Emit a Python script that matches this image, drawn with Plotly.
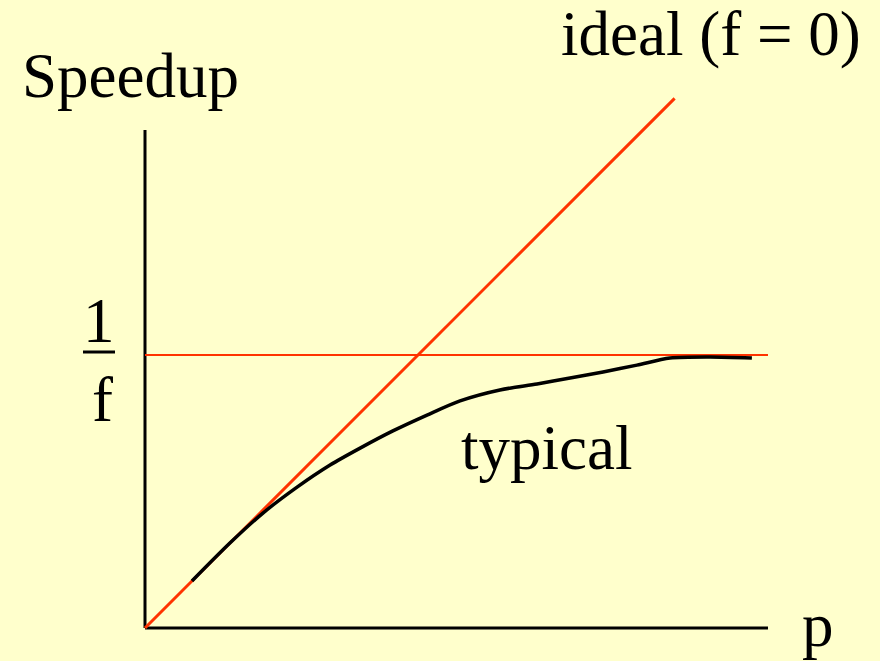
import plotly.graph_objects as go

# ---- data (arbitrary units; 1/f level = 10) ----
inv_f = 10.0
p_axis_end = 22.82
speedup_axis_end = 18.24
ideal_p = [0.0, 19.4]
ideal_s = [0.0, 19.4]
typical_p = [1.72, 3.11, 4.32, 5.57, 6.78, 7.88, 9.08, 10.33, 11.54, 13.00,
             14.36, 15.57, 16.78, 18.02, 19.23, 20.70, 22.23]
typical_s = [1.72, 3.11, 4.21, 5.16, 5.97, 6.59, 7.22, 7.80, 8.32, 8.72,
             8.94, 9.16, 9.38, 9.63, 9.89, 9.93, 9.89]

W, H = 880, 661
K = 27.3          # px per unit
OX, OY = 145, 628  # origin pixel

BG = "#FFFFCC"
RED = "#FF3300"
FONT = "Liberation Serif, Times New Roman, serif"

fig = go.Figure()
# axes
fig.add_trace(go.Scatter(x=[0, p_axis_end], y=[0, 0], mode="lines",
                         line=dict(color="black", width=3), hoverinfo="skip"))
fig.add_trace(go.Scatter(x=[0, 0], y=[0, speedup_axis_end], mode="lines",
                         line=dict(color="black", width=3), hoverinfo="skip"))
# 1/f level
fig.add_trace(go.Scatter(x=[0, p_axis_end], y=[inv_f, inv_f], mode="lines",
                         line=dict(color=RED, width=2), hoverinfo="skip"))
# ideal
fig.add_trace(go.Scatter(x=ideal_p, y=ideal_s, mode="lines",
                         line=dict(color=RED, width=3), hoverinfo="skip"))
# typical
fig.add_trace(go.Scatter(x=typical_p, y=typical_s, mode="lines",
                         line=dict(color="black", width=3.5, shape="spline", smoothing=0.8),
                         hoverinfo="skip"))

def px(xp):
    return xp / W

def py(yp):
    return 1 - yp / H

FS = 63
def label(text, xp, yp, size=FS):
    fig.add_annotation(text=text, x=px(xp), y=py(yp), xref="paper", yref="paper",
                       xanchor="center", yanchor="middle", showarrow=False,
                       font=dict(family=FONT, size=size, color="black"))

label("Speedup", 130, 76)
label("ideal (f = 0)", 711, 34)
label("typical", 546, 448)
label("1", 99, 321)
label("f", 102, 400)
label("p", 818, 625)

fig.add_shape(type="line", xref="paper", yref="paper",
              x0=px(83), x1=px(115), y0=py(352), y1=py(352),
              line=dict(color="black", width=3))

fig.update_layout(
    width=W, height=H,
    margin=dict(l=0, r=0, t=0, b=0),
    paper_bgcolor=BG, plot_bgcolor=BG,
    showlegend=False,
    xaxis=dict(range=[-OX / K, (W - OX) / K], visible=False, fixedrange=True),
    yaxis=dict(range=[-(H - OY) / K, OY / K], visible=False, fixedrange=True),
)

fig.write_html("out.html", config={"displayModeBar": False},
               post_script="document.body.style.margin='0';")
